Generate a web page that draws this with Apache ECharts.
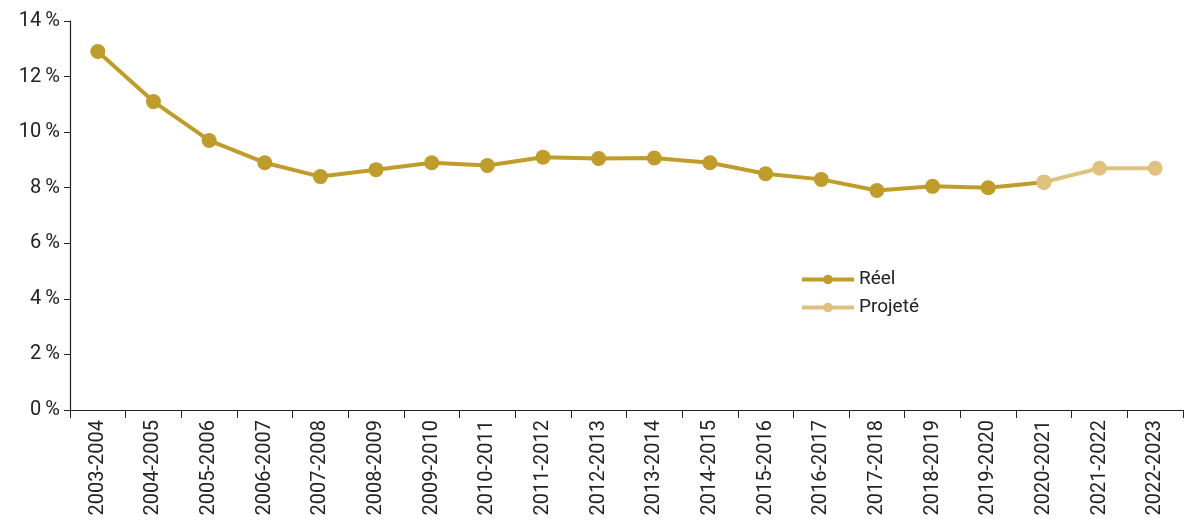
<!DOCTYPE html>
<html><head><meta charset="utf-8">
<script src="https://cdn.jsdelivr.net/npm/echarts@6/dist/echarts.min.js"></script>
<style>html,body{margin:0;padding:0;background:#fff}#c{width:1185px;height:521px}</style>
</head><body><div id="c"></div>
<script>
const categories = ["2003-2004","2004-2005","2005-2006","2006-2007","2007-2008","2008-2009","2009-2010","2010-2011","2011-2012","2012-2013","2013-2014","2014-2015","2015-2016","2016-2017","2017-2018","2018-2019","2019-2020","2020-2021","2021-2022","2022-2023"];
const reel = [12.9,11.1,9.7,8.9,8.4,8.65,8.9,8.8,9.1,9.05,9.07,8.9,8.5,8.3,7.9,8.05,8.0,8.2,null,null];
const projete = [null,null,null,null,null,null,null,null,null,null,null,null,null,null,null,null,null,8.2,8.7,8.7];
const yTicks = [0,2,4,6,8,10,12,14];
const FONT = '"Roboto", sans-serif';
const C1 = '#C09C2A', C2 = '#DFC27F';
const chart = echarts.init(document.getElementById('c'));
chart.setOption({
  animation:false,
  textStyle:{fontFamily:FONT},
  grid:{left:70,right:2,top:21,bottom:111},
  legend:{orient:'vertical',left:795,top:265,itemWidth:52,itemHeight:12,itemGap:9,
    textStyle:{fontSize:19,color:'#222',fontFamily:FONT},
    data:[{name:'Réel',lineStyle:{width:4,color:C1}},{name:'Projeté',lineStyle:{width:4,color:C2}}]},
  xAxis:{type:'category',data:categories,boundaryGap:true,
    axisLine:{lineStyle:{color:'#222',width:1.2}},
    axisTick:{show:true,length:8,lineStyle:{color:'#222'}},
    axisLabel:{rotate:90,fontSize:20,color:'#222',margin:10,fontFamily:FONT}},
  yAxis:{type:'value',min:yTicks[0],max:yTicks[yTicks.length-1],interval:2,
    axisLine:{show:true,lineStyle:{color:'#222',width:1.2}},
    axisTick:{show:true,length:6,lineStyle:{color:'#222'}},
    splitLine:{show:false},
    axisLabel:{fontSize:20,color:'#222',margin:10,fontFamily:FONT,formatter:v=>v+'\u2009%'}},
  series:[
    {name:'Réel',type:'line',data:reel,symbol:'circle',symbolSize:15,
      lineStyle:{width:4,color:C1},itemStyle:{color:C1}},
    {name:'Projeté',type:'line',data:projete,symbol:'circle',symbolSize:15,z:3,
      lineStyle:{width:4,color:C2},itemStyle:{color:C2}}
  ]
});
</script></body></html>
